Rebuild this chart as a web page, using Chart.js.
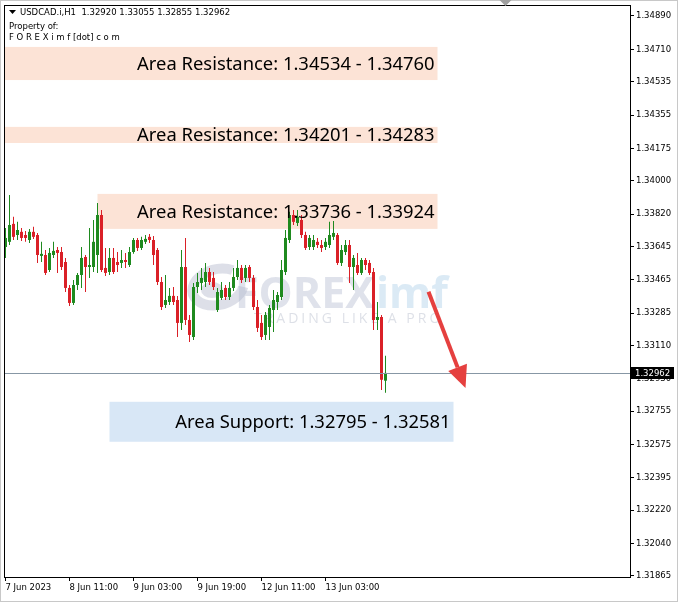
<!DOCTYPE html>
<html><head><meta charset="utf-8">
<script src="https://cdn.jsdelivr.net/npm/chart.js@4.4.1/dist/chart.umd.min.js"></script>
<style>html,body{margin:0;padding:0;background:#fff;overflow:hidden}canvas{display:block}</style>
</head><body>
<canvas id="c" width="678" height="602"></canvas>
<script>
const symbolTitle = 'USDCAD.i,H1';
const propertyLines = ['Property of:', 'F O R E X i m f [dot] c o m'];

const opens = [1.33642,1.33670,1.33767,1.33707,1.33724,1.33707,1.33680,1.33724,1.33707,1.33594,
1.33599,1.33518,1.33599,1.33626,1.33615,1.33561,1.33421,1.33340,1.33437,1.33491,
1.33588,1.33534,1.33534,1.33599,1.33815,1.33529,1.33507,1.33583,1.33561,1.33556,
1.33572,1.33545,1.33615,1.33680,1.33637,1.33670,1.33697,1.33680,1.33626,1.33453,
1.33329,1.33345,1.33378,1.33356,1.33232,1.33534,1.33248,1.33156,1.33426,1.33448,
1.33453,1.33507,1.33475,1.33302,1.33367,1.33421,1.33372,1.33421,1.33480,1.33529,
1.33475,1.33534,1.33475,1.33318,1.33232,1.33167,1.33210,1.33302,1.33345,1.33372,
1.33507,1.33680,1.33815,1.33772,1.33788,1.33707,1.33642,1.33642,1.33670,1.33653,
1.33642,1.33653,1.33697,1.33707,1.33556,1.33615,1.33653,1.33534,1.33545,1.33502,
1.33572,1.33556,1.33507,1.33248,1.33264,1.32920];

const closes = [1.33691,1.33761,1.33697,1.33734,1.33691,1.33691,1.33724,1.33697,1.33599,1.33605,
1.33502,1.33610,1.33621,1.33610,1.33534,1.33421,1.33340,1.33437,1.33491,1.33583,
1.33534,1.33545,1.33670,1.33815,1.33518,1.33502,1.33583,1.33507,1.33545,1.33572,
1.33561,1.33615,1.33680,1.33637,1.33680,1.33686,1.33680,1.33599,1.33453,1.33318,
1.33356,1.33378,1.33345,1.33232,1.33534,1.33248,1.33167,1.33426,1.33453,1.33475,
1.33507,1.33453,1.33426,1.33399,1.33410,1.33372,1.33421,1.33480,1.33529,1.33464,
1.33529,1.33475,1.33318,1.33205,1.33156,1.33275,1.33313,1.33356,1.33383,1.33518,
1.33691,1.33815,1.33778,1.33805,1.33707,1.33637,1.33691,1.33680,1.33653,1.33637,
1.33670,1.33707,1.33718,1.33556,1.33626,1.33653,1.33534,1.33583,1.33502,1.33572,
1.33545,1.33502,1.33248,1.33264,1.32925,1.32962];

const highs = [1.33745,1.33923,1.33805,1.33778,1.33745,1.33729,1.33740,1.33751,1.33718,1.33670,
1.33626,1.33637,1.33670,1.33642,1.33642,1.33583,1.33437,1.33464,1.33502,1.33642,
1.33599,1.33745,1.33788,1.33880,1.33842,1.33637,1.33637,1.33637,1.33615,1.33626,
1.33610,1.33642,1.33691,1.33691,1.33697,1.33707,1.33713,1.33702,1.33637,1.33480,
1.33491,1.33421,1.33426,1.33378,1.33626,1.33691,1.33275,1.33448,1.33502,1.33529,
1.33556,1.33529,1.33507,1.33421,1.33453,1.33437,1.33453,1.33529,1.33572,1.33545,
1.33545,1.33545,1.33491,1.33356,1.33275,1.33291,1.33329,1.33410,1.33399,1.33572,
1.33734,1.33832,1.33842,1.33842,1.33815,1.33724,1.33707,1.33707,1.33691,1.33680,
1.33691,1.33778,1.33783,1.33718,1.33653,1.33680,1.33680,1.33599,1.33610,1.33583,
1.33583,1.33572,1.33529,1.33345,1.33275,1.33055];

const lows = [1.33583,1.33653,1.33680,1.33680,1.33675,1.33670,1.33664,1.33686,1.33556,1.33561,
1.33491,1.33507,1.33583,1.33502,1.33518,1.33399,1.33324,1.33329,1.33410,1.33421,
1.33399,1.33475,1.33507,1.33502,1.33507,1.33486,1.33491,1.33496,1.33507,1.33529,
1.33529,1.33534,1.33605,1.33621,1.33626,1.33659,1.33664,1.33545,1.33437,1.33302,
1.33313,1.33329,1.33329,1.33156,1.33194,1.33221,1.33129,1.33140,1.33394,1.33410,
1.33426,1.33437,1.33410,1.33291,1.33356,1.33356,1.33356,1.33405,1.33464,1.33448,
1.33453,1.33453,1.33302,1.33183,1.33140,1.33140,1.33140,1.33183,1.33302,1.33356,
1.33491,1.33664,1.33761,1.33756,1.33691,1.33626,1.33626,1.33626,1.33637,1.33615,
1.33626,1.33637,1.33680,1.33545,1.33540,1.33599,1.33448,1.33410,1.33491,1.33491,
1.33518,1.33491,1.33194,1.33194,1.32870,1.32855];

const xTickIndex = [0, 16, 32, 48, 64, 80];
const xTickLabels = ['7 Jun 2023','8 Jun 11:00','9 Jun 03:00','9 Jun 19:00','12 Jun 11:00','13 Jun 03:00'];
const yTickLabels = ['1.34890','1.34710','1.34535','1.34355','1.34175','1.34000','1.33820','1.33645','1.33465',
'1.33285','1.33110','1.32930','1.32755','1.32575','1.32395','1.32220','1.32040','1.31865'];

const zoneLabels = ['Area Resistance: 1.34534 - 1.34760','Area Resistance: 1.34201 - 1.34283',
                    'Area Resistance: 1.33736 - 1.33924','Area Support: 1.32795 - 1.32581'];
const zoneLow   = [1.34544, 1.34204, 1.33740, 1.32590];
const zoneHigh  = [1.34723, 1.34291, 1.33929, 1.32806];
const zoneStart = [-0.375, -0.375, 23, 26];
const zoneEnd   = [108, 108, 108, 112];
const zoneKind  = ['res','res','res','sup'];

const arrowFrom = [105.75, 1.33400];
const arrowTo   = [115, 1.32881];
const shiftMarkIndex = 125;

const GREEN = '#1f8a1f', RED = '#da2027';
const ZONE_RES = '#fce3d6', ZONE_SUP = '#d8e7f6';
const AXIS_FONT = '"DejaVu Sans", sans-serif';

const idx = opens.map((_, i) => i);
const colorOf = i => closes[i] >= opens[i] ? GREEN : RED;
const bodies = idx.map(i => ({x: i, y: [opens[i], closes[i]]}));
const wicks = idx.map(i => ({x: i, y: [lows[i], highs[i]]}));

const deco = {
  id: 'deco',
  beforeDraw(chart) {
    const ctx = chart.ctx;
    ctx.save();
    ctx.fillStyle = '#fff';
    ctx.fillRect(0, 0, chart.width, chart.height);
    ctx.restore();
  },
  beforeDatasetsDraw(chart) {
    const ctx = chart.ctx, a = chart.chartArea, xs = chart.scales.x, ys = chart.scales.y;
    ctx.save();
    ctx.beginPath(); ctx.rect(a.left, a.top, a.right - a.left, a.bottom - a.top); ctx.clip();
    for (let k = 0; k < zoneLabels.length; k++) {
      const x1 = xs.getPixelForValue(zoneStart[k]), x2 = xs.getPixelForValue(zoneEnd[k]);
      const y1 = ys.getPixelForValue(zoneHigh[k]), y2 = ys.getPixelForValue(zoneLow[k]);
      ctx.fillStyle = zoneKind[k] === 'sup' ? ZONE_SUP : ZONE_RES;
      ctx.fillRect(x1, y1, x2 - x1, y2 - y1);
    }
    // watermark
    const L = a.left, T = a.top;
    ctx.lineWidth = 10;
    ctx.strokeStyle = 'rgba(165,172,195,0.38)';
    ctx.beginPath(); ctx.ellipse(L + 214, T + 282, 26, 18, -0.25, 0.35, Math.PI * 1.75); ctx.stroke();
    ctx.fillStyle = 'rgba(165,172,195,0.38)';
    ctx.beginPath(); ctx.ellipse(L + 208, T + 285, 11, 8, 0, 0, Math.PI * 2); ctx.fill();
    ctx.font = 'bold 43px "Open Sans", sans-serif';
    ctx.textBaseline = 'alphabetic'; ctx.textAlign = 'left';
    ctx.fillStyle = 'rgba(175,183,205,0.4)';
    ctx.fillText('FOREX', L + 231, T + 303);
    const w = ctx.measureText('FOREX').width;
    ctx.fillStyle = 'rgba(170,205,232,0.42)';
    ctx.fillText('imf', L + 231 + w + 2, T + 303);
    ctx.font = '14px "Open Sans", sans-serif';
    ctx.letterSpacing = '3px';
    ctx.fillStyle = 'rgba(180,186,202,0.45)';
    ctx.fillText('TRADING LIKE A PRO', L + 250, T + 318);
    ctx.letterSpacing = '0px';
    ctx.restore();
  },
  afterDatasetsDraw(chart) {
    const ctx = chart.ctx, a = chart.chartArea, xs = chart.scales.x, ys = chart.scales.y;
    ctx.save();
    ctx.beginPath(); ctx.rect(a.left, a.top, a.right - a.left, a.bottom - a.top); ctx.clip();
    const last = closes.length - 1;
    const yc = Math.round(ys.getPixelForValue(closes[last])) + 0.5;
    ctx.strokeStyle = '#8797a5'; ctx.lineWidth = 1;
    ctx.beginPath(); ctx.moveTo(a.left, yc); ctx.lineTo(a.right, yc); ctx.stroke();
    ctx.font = '18.4px "Noto Sans", sans-serif';
    ctx.fillStyle = '#000'; ctx.textAlign = 'right'; ctx.textBaseline = 'middle';
    for (let k = 0; k < zoneLabels.length; k++) {
      const x2 = xs.getPixelForValue(zoneEnd[k]);
      const yMid = (ys.getPixelForValue(zoneHigh[k]) + ys.getPixelForValue(zoneLow[k])) / 2;
      ctx.fillText(zoneLabels[k], x2 - 3, yMid + 1);
    }
    const x0 = xs.getPixelForValue(arrowFrom[0]), y0 = ys.getPixelForValue(arrowFrom[1]);
    const x1 = xs.getPixelForValue(arrowTo[0]), y1 = ys.getPixelForValue(arrowTo[1]);
    const ang = Math.atan2(y1 - y0, x1 - x0), head = 22, hw = 10;
    const bx = x1 - head * Math.cos(ang), by = y1 - head * Math.sin(ang);
    ctx.strokeStyle = '#e5403f'; ctx.fillStyle = '#e5403f'; ctx.lineWidth = 4; ctx.lineCap = 'butt';
    ctx.beginPath(); ctx.moveTo(x0, y0); ctx.lineTo(bx, by); ctx.stroke();
    ctx.beginPath();
    ctx.moveTo(x1, y1);
    ctx.lineTo(bx + hw * Math.sin(ang), by - hw * Math.cos(ang));
    ctx.lineTo(bx - hw * Math.sin(ang), by + hw * Math.cos(ang));
    ctx.closePath(); ctx.fill();
    ctx.restore();
  },
  afterDraw(chart) {
    const ctx = chart.ctx, a = chart.chartArea, xs = chart.scales.x, ys = chart.scales.y;
    ctx.save();
    ctx.strokeStyle = '#000'; ctx.lineWidth = 1;
    ctx.strokeRect(a.left + 0.5, a.top + 0.5, a.right - a.left, a.bottom - a.top);
    ctx.strokeStyle = '#c8c8c8';
    ctx.strokeRect(0.5, 0.5, chart.width - 1, chart.height - 1);
    const sx = xs.getPixelForValue(shiftMarkIndex);
    ctx.fillStyle = '#a0a0a0';
    ctx.beginPath(); ctx.moveTo(sx - 6, 0); ctx.lineTo(sx + 6, 0); ctx.lineTo(sx, 6); ctx.closePath(); ctx.fill();
    const last = closes.length - 1;
    const yc = Math.round(ys.getPixelForValue(closes[last]));
    ctx.fillStyle = '#000';
    ctx.fillRect(a.right + 1, yc - 6, 43, 12);
    ctx.fillStyle = '#fff';
    ctx.font = '8.5px ' + AXIS_FONT; ctx.textBaseline = 'middle'; ctx.textAlign = 'left';
    ctx.fillText(closes[last].toFixed(5), a.right + 5, yc + 0.5);
    ctx.fillStyle = '#000';
    ctx.beginPath(); ctx.moveTo(a.left + 5, a.top + 5); ctx.lineTo(a.left + 12, a.top + 5); ctx.lineTo(a.left + 8.5, a.top + 9); ctx.closePath(); ctx.fill();
    ctx.font = '8.5px ' + AXIS_FONT;
    const hdr = symbolTitle + '  ' + [opens[last], highs[last], lows[last], closes[last]].map(v => v.toFixed(5)).join(' ');
    ctx.fillText(hdr, a.left + 16, a.top + 8);
    ctx.fillText(propertyLines[0], a.left + 5, a.top + 22);
    ctx.fillText(propertyLines[1], a.left + 5, a.top + 33);
    ctx.restore();
  }
};

new Chart(document.getElementById('c').getContext('2d'), {
  type: 'bar',
  data: {
    datasets: [
      {data: bodies, backgroundColor: idx.map(colorOf), barThickness: 3, grouped: false, inflateAmount: 0, borderWidth: 0},
      {data: wicks, backgroundColor: idx.map(colorOf), barThickness: 1, grouped: false, inflateAmount: 0, borderWidth: 0}
    ]
  },
  options: {
    responsive: false, animation: false, events: [],
    layout: {padding: {left: 4, top: 5, right: 0, bottom: 0}},
    plugins: {legend: {display: false}, tooltip: {enabled: false}},
    scales: {
      x: {
        type: 'linear', min: -0.375, max: 156.125, offset: false, position: 'bottom',
        afterBuildTicks: s => { s.ticks = xTickIndex.map(v => ({value: v})); },
        afterFit: s => { s.height = 25; s.paddingLeft = 0; s.paddingRight = 0; },
        ticks: {callback: (v, i) => xTickLabels[i], align: 'start', maxRotation: 0, minRotation: 0,
                autoSkip: false, padding: 2, color: '#000', font: {family: AXIS_FONT, size: 8.5}},
        grid: {drawOnChartArea: false, drawTicks: true, tickLength: 4, color: '#000', offset: false},
        border: {display: false}
      },
      y: {
        type: 'linear', position: 'right', min: 1.318595, max: 1.349494,
        afterBuildTicks: s => { s.ticks = yTickLabels.map(v => ({value: parseFloat(v)})); },
        afterFit: s => { s.width = 48; s.paddingTop = 0; s.paddingBottom = 0; },
        ticks: {callback: (v, i) => yTickLabels[i], autoSkip: false, padding: 2, color: '#000',
                font: {family: AXIS_FONT, size: 8.5}},
        grid: {drawOnChartArea: false, drawTicks: true, tickLength: 4, color: '#000'},
        border: {display: false}
      }
    }
  },
  plugins: [deco]
});
</script>
</body></html>
